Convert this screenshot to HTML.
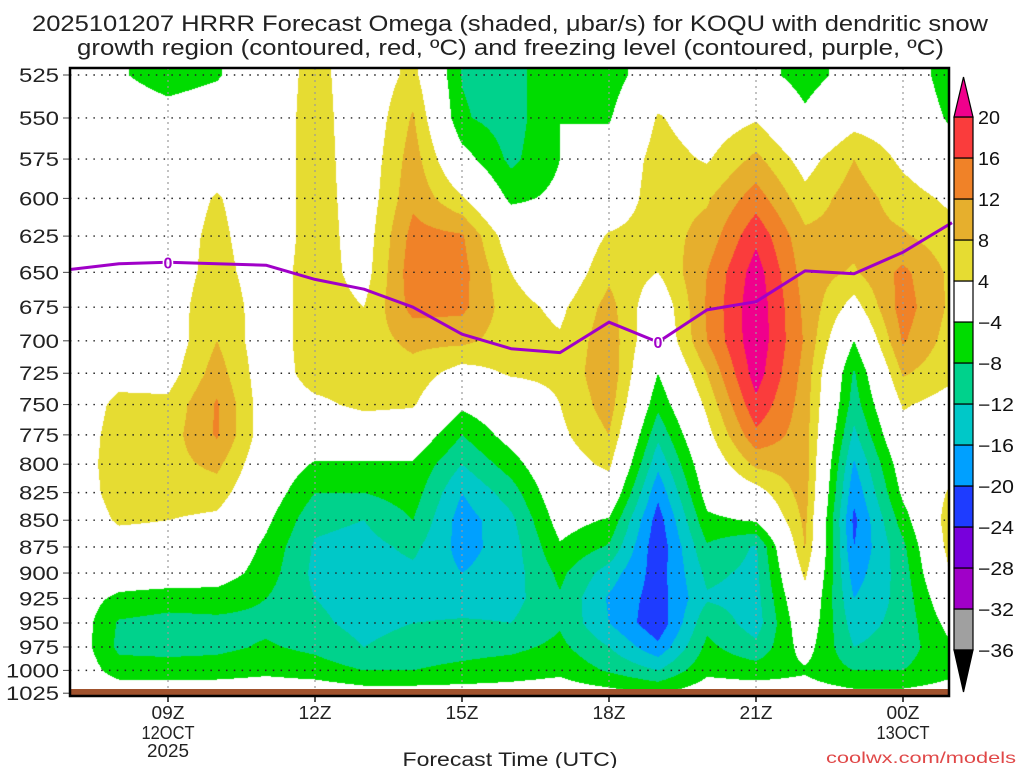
<!DOCTYPE html>
<html><head><meta charset="utf-8">
<style>
html,body{margin:0;padding:0;background:#fff;}
#wrap{position:relative;width:1024px;height:768px;overflow:hidden;font-family:"Liberation Sans",sans-serif;}
#field{position:absolute;left:0;top:0;}
#ov{position:absolute;left:0;top:0;}
</style></head>
<body>
<div id="wrap">
<canvas id="field" width="1024" height="768"></canvas>
<svg id="ov" width="1024" height="768" xmlns="http://www.w3.org/2000/svg"></svg>
</div>
<script>
// ---- data ----
const hours = [7,8,9,10,11,12,13,14,15,16,17,18,19,20,21,22,23,24,25];
const levels = [525,550,575,600,625,650,675,700,725,750,775,800,825,850,875,900,925,950,975,1000,1025];
const omega07 = [-1,0,0,0,0,0,0,0,0,1,1.5,2,1.5,1,0,0,-1,0,0,0,0];
const omega08 = [-3.5,-1,0,0,0,0,0,0.5,2.5,5,5.5,5.5,5.5,4.5,2,-1,-5,-8.5,-9,-6,-1];
const omega09 = [-6,-2,0,0.5,1,1,1,1,2,5,6,6.5,6,4,2,-1,-6,-9.5,-9.5,-6,-1];
const omega10 = [-4.5,-1,1,4.5,5.5,6,7.8,8,10,12.5,12.5,9,6,3,1,-1.5,-6,-9,-9,-6,-1];
const omega11 = [0,0,0,0,0,1,1,1,1,1,1,0,-1,-3,-5,-6,-8,-9,-7.5,-5,-1];
const omega12 = [6,6.5,6.5,6.5,6.5,6.5,6.5,6.5,6,3,0,-4.5,-8,-11,-12.5,-13,-12,-11,-9,-6,-1];
const omega13 = [0,0,0.5,1,1.5,2,4,6,6,5,0.5,-4.5,-8,-12,-13.5,-14,-14,-13.5,-12,-8,-2];
const omega14 = [5.5,8.5,10,11,13.5,14.5,13.5,9,6.5,4.5,0,-4.5,-6,-8,-11,-13,-14,-12,-10,-8,-2];
const omega15 = [-8.2,-7.5,-2,4.5,12.5,13.5,13,9,2,-3,-8,-12,-16,-18,-17.5,-16,-14,-11.5,-9.5,-7,-2];
const omega16 = [-10,-10,-9,-5,1,4,5.5,6,4.5,0,-2,-6,-10,-13,-14,-14,-13.5,-12,-9,-6,-2];
const omega17 = [-4,-4,-4,-3,-1,0,3,4.5,5,4,3,1.5,0,-2,-4.5,-7,-8.5,-8.5,-7,-5,-1.5];
const omega18 = [-6.5,-4.5,-1,0,4.5,7,9.5,10.5,11,10,8,5,1,-4.5,-8.5,-14,-16.5,-16,-12,-8.5,-2.5];
const omega19 = [0,4.5,6,6.5,6,4,0,-1,-4,-7,-11,-15,-19,-22,-23,-22,-22,-23,-19,-12,-4];
const omega20 = [-1,1,3.5,7.5,9.5,12,12.5,12,8,5,2.5,0,-2,-5,-8.5,-11,-12.5,-9,-7,-5,-1.5];
const omega21 = [-2,3.5,9,14,19,22,23,23,22,19,15,9,2,-3.5,-12.5,-13,-13.5,-14,-11,-6,-1.5];
const omega22 = [-6,-3,2,5.5,9,10,11,11.5,10.5,10,10,10,10,9,8.2,5,2,0,-2,-4.5,-2];
const omega23 = [-2,2,8,10,9.5,7.5,2,-4,-8.5,-10,-13,-16.5,-19,-21,-20,-18,-16,-14,-12,-8,-3];
const omega24 = [0,1,3,6,8.5,13,14,12.5,8.5,4.5,2,-1,-3,-6,-9,-10,-10.5,-10.5,-10,-8,-3];
const omega25 = [-7,-5,-1,3,5.5,7,7,6,5,2,1,1,5,7,6.5,4.5,1,-2,-4.5,-5,-2];
const omegaCols = [omega07,omega08,omega09,omega10,omega11,omega12,omega13,omega14,omega15,omega16,omega17,omega18,omega19,omega20,omega21,omega22,omega23,omega24,omega25];
const frzHours = [7,8,9,10,11,12,13,14,15,16,17,18,19,20,21,22,23,24,25];
const frzLevel = [648,644,643,644,645,655,662,675,695,706,709,686,701,677,671,649,651,636,616];
const cbLevels = [-36,-32,-28,-24,-20,-16,-12,-8,-4,4,8,12,16,20];
const cbColors = ["#000000","#a0a0a0","#a000c8","#7800dc","#1e3cff","#00a0ff","#00c8c8","#00d28c","#00dc00","#ffffff","#e6dc32","#e6af2d","#f08228","#fa3c3c","#f0008c"];
const xTickHours = [9,12,15,18,21,24];
const xTickLab1 = ["09Z","12Z","15Z","18Z","21Z","00Z"];
const xTickLab2 = ["12OCT","","","","","13OCT"];
const xTickLab3 = ["2025","","","","",""];

// ---- axes ----
const X0=70, X1=949, Y0=68, Y1=696;
const H0=7, PXH=49;
const LP0=Math.log(525), PXL=924, YP0=75;
function xOf(h){return X0+(h-H0)*PXH;}
function yOf(p){return YP0+(Math.log(p)-LP0)*PXL;}
const cbY0=650, cbStep=(650-117)/13;
function cbY(i){return cbY0-i*cbStep;}
function colorFor(v){let i=0;while(i<cbLevels.length&&v>=cbLevels[i])i++;return cbColors[i];}

// ---- field ----
(function(){
  const c=document.getElementById('field');const ctx=c.getContext('2d');
  const w=X1-X0, h=Y1-Y0;
  const img=ctx.createImageData(w,h);
  const ly=levels.map(yOf);
  const rgb={};cbColors.forEach(s=>{rgb[s]=[parseInt(s.substr(1,2),16),parseInt(s.substr(3,2),16),parseInt(s.substr(5,2),16)];});
  for(let py=0;py<h;py++){
    const y=Y0+py+0.5;
    let j=0;while(j<ly.length-2&&y>ly[j+1])j++;
    let fy=(y-ly[j])/(ly[j+1]-ly[j]);fy=Math.max(0,Math.min(1,fy));
    for(let px=0;px<w;px++){
      const hr=H0+(px+0.5)/PXH;
      let i=Math.floor(hr-H0);if(i>hours.length-2)i=hours.length-2;if(i<0)i=0;
      let fx=(hr-hours[i])/(hours[i+1]-hours[i]);fx=Math.max(0,Math.min(1,fx));
      const a=omegaCols[i][j],b=omegaCols[i+1][j],cc=omegaCols[i][j+1],d=omegaCols[i+1][j+1];
      const v=(a*(1-fx)+b*fx)*(1-fy)+(cc*(1-fx)+d*fx)*fy;
      const col=rgb[colorFor(v)];const k=(py*w+px)*4;
      img.data[k]=col[0];img.data[k+1]=col[1];img.data[k+2]=col[2];img.data[k+3]=255;
    }
  }
  ctx.putImageData(img,X0,Y0);
})();

// ---- overlay ----
const NS="http://www.w3.org/2000/svg";
const svg=document.getElementById('ov');
function mk(tag,attrs,parent){const e=document.createElementNS(NS,tag);for(const k in attrs)e.setAttribute(k,attrs[k]);(parent||svg).appendChild(e);return e;}
function txt(s,attrs,parent){const e=mk('text',attrs,parent);e.textContent=s;return e;}

// grid
levels.forEach(p=>{
  const y=yOf(p);
  const l=mk('line',{x1:X0,x2:X1,y1:y,y2:y,stroke:"#222","stroke-width":1.4,"stroke-dasharray":"1.5 6.3"});
  
  
  const t=mk('line',{x1:X0-7,x2:X0,y1:y,y2:y,stroke:"#444","stroke-width":1});
  
  
  const lb=txt(String(p),{x:59,y:y+7,"font-size":19,"text-anchor":"end",fill:"#222",textLength:p>=1000?53:40,lengthAdjust:"spacingAndGlyphs"});
  
  
});
xTickHours.forEach((hh,i)=>{
  const x=xOf(hh);
  const l=mk('line',{x1:x,x2:x,y1:Y0,y2:Y1,stroke:"#999","stroke-width":1.2,"stroke-dasharray":"2 4"});
  
  
  const t=mk('line',{x1:x,x2:x,y1:Y1,y2:Y1+6,stroke:"#000","stroke-width":1.4});
  
  
  const a=txt(xTickLab1[i],{x:x,y:719,"font-size":18,"text-anchor":"middle",fill:"#222",textLength:33,lengthAdjust:"spacingAndGlyphs"});
  
  
  if(xTickLab2[i]){const b=txt(xTickLab2[i],{x:x,y:739,"font-size":18,"text-anchor":"middle",fill:"#222",textLength:53,lengthAdjust:"spacingAndGlyphs"});
    
    }
  if(xTickLab3[i]){const c=txt(xTickLab3[i],{x:x,y:757,"font-size":18,"text-anchor":"middle",fill:"#222",textLength:42,lengthAdjust:"spacingAndGlyphs"});
    
    }
});

// ground
const gr=mk('rect',{x:X0,y:689,width:X1-X0,height:7,fill:"#a0522d"});



// freezing line
let d="";frzHours.forEach((hh,i)=>{d+=(i?"L":"M")+xOf(hh).toFixed(1)+","+yOf(frzLevel[i]).toFixed(1);});
const fl=mk('path',{d:d,fill:"none",stroke:"#a000c8","stroke-width":3,"stroke-linejoin":"round"});


[[9,2],[19,12]].forEach(([hh,idx])=>{
  const x=xOf(hh),y=yOf(frzLevel[idx]);
  const bg=mk('rect',{x:x-7,y:y-9,width:14,height:18,fill:"none"});
  const t=txt("0",{x:x,y:y+6,"font-size":16,"font-weight":"bold","text-anchor":"middle",fill:"#a000c8",stroke:"#fff","stroke-width":3,"paint-order":"stroke"});
  
  
});

// frame
const fr=mk('rect',{x:X0,y:Y0,width:X1-X0,height:Y1-Y0,fill:"none",stroke:"#000","stroke-width":2.5});



// colorbar
const cbX=954,cbW=19;
for(let i=0;i<cbLevels.length-1;i++){
  const r=mk('rect',{x:cbX,y:cbY(i+1),width:cbW,height:cbStep,fill:cbColors[i+1],stroke:"#000","stroke-width":1.2});
  
  
}
const tt=mk('polygon',{points:`${cbX},${cbY(13)} ${cbX+cbW},${cbY(13)} ${cbX+cbW/2},77`,fill:cbColors[14],stroke:"#000","stroke-width":1.2});


const tb=mk('polygon',{points:`${cbX},${cbY(0)} ${cbX+cbW},${cbY(0)} ${cbX+cbW/2},692`,fill:cbColors[0],stroke:"#000","stroke-width":1.2});


cbLevels.forEach((v,i)=>{
  const s=v<0?"\u2212"+(-v):String(v);
  const t=txt(s,{x:978,y:cbY(i)+7,"font-size":18,fill:"#111",textLength:v<0?(Math.abs(v)>=10?36:24):(v>=10?22:11),lengthAdjust:"spacingAndGlyphs"});
  
  
});

// titles
const t1=txt("2025101207 HRRR Forecast Omega (shaded, \u03bcbar/s) for KOQU with dendritic snow",{x:32,y:31,"font-size":22,fill:"#222",textLength:956,lengthAdjust:"spacingAndGlyphs"});


const t2=txt("growth region (contoured, red, \u00baC) and freezing level (contoured, purple, \u00baC)",{x:77,y:55,"font-size":22,fill:"#222",textLength:867,lengthAdjust:"spacingAndGlyphs"});


const xt=txt("Forecast Time (UTC)",{x:510,y:766,"font-size":19,"text-anchor":"middle",fill:"#222",textLength:215,lengthAdjust:"spacingAndGlyphs"});


const cr=txt("coolwx.com/models",{x:1016,y:763,"font-size":16,"text-anchor":"end",fill:"#e04848",textLength:190,lengthAdjust:"spacingAndGlyphs"});


</script>
</body></html>
